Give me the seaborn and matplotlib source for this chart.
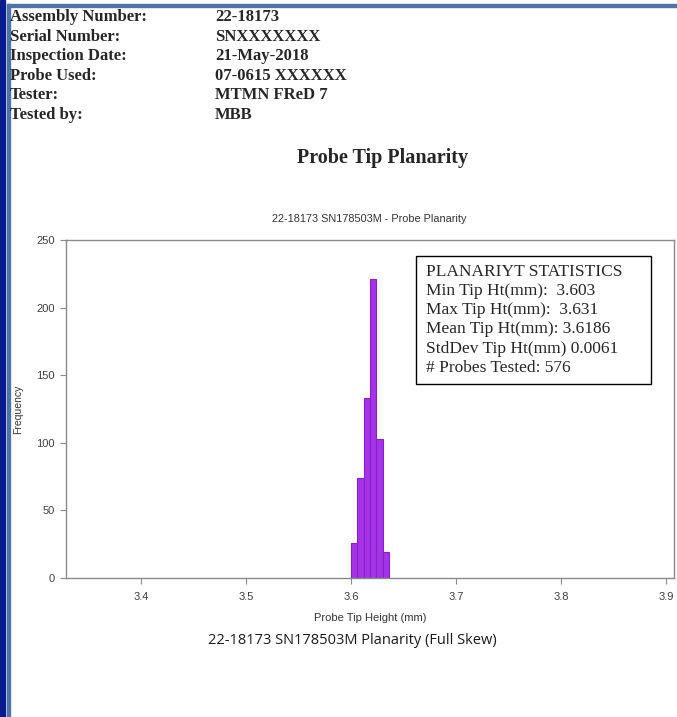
import numpy as np
import matplotlib
matplotlib.use("Agg")
import matplotlib.pyplot as plt
from matplotlib.patches import Rectangle
import seaborn as sns

# histogram (576 probes)
BIN_EDGES = [3.600, 3.606, 3.612, 3.618, 3.624, 3.630, 3.636]
COUNTS = [26, 74, 133, 221, 103, 19]

X_TICKS = [3.4, 3.5, 3.6, 3.7, 3.8, 3.9]
Y_TICKS = [0, 50, 100, 150, 200, 250]

HEADER_LABELS = ["Assembly Number:", "Serial Number:", "Inspection Date:",
                 "Probe Used:", "Tester:", "Tested by:"]
HEADER_VALUES = ["22-18173", "SNXXXXXXX", "21-May-2018",
                 "07-0615 XXXXXX", "MTMN FReD 7", "MBB"]

STATS_LINES = ["PLANARIYT STATISTICS",
               "Min Tip Ht(mm):  3.603",
               "Max Tip Ht(mm):  3.631",
               "Mean Tip Ht(mm): 3.6186",
               "StdDev Tip Ht(mm) 0.0061",
               "# Probes Tested: 576"]

W, H = 677, 717
SANS = ["Liberation Sans", "DejaVu Sans"]
SERIF = ["Liberation Serif", "DejaVu Serif"]
TICK_GREY = "#3f3f3f"
SPINE_GREY = "#8a8a8a"


def fx(px):
    return px / W


def fy(py):
    return 1 - py / H


def draw_page(fig):
    # left navy strip + thin steel-blue frame lines
    fig.patches.append(Rectangle((0, 0), fx(4.5), 1, transform=fig.transFigure,
                                 color="#0b1c8f", zorder=0))
    fig.patches.append(Rectangle((fx(7), 0), fx(3), fy(4), transform=fig.transFigure,
                                 color="#4f72a8", zorder=0))
    fig.patches.append(Rectangle((fx(7), fy(7)), 1, 3 / H,
                                 transform=fig.transFigure, color="#4f72a8", zorder=0))

    for i, (lab, val) in enumerate(zip(HEADER_LABELS, HEADER_VALUES)):
        y = 17 + i * 19.6
        fig.text(fx(10), fy(y), lab, family=SERIF, weight="bold", fontsize=12,
                 va="center", ha="left")
        fig.text(fx(215), fy(y), val, family=SERIF, weight="bold", fontsize=12,
                 va="center", ha="left")

    fig.text(fx(383), fy(158), "Probe Tip Planarity", family=SERIF, weight="bold",
             fontsize=14.5, ha="center", va="center")
    fig.text(fx(369), fy(219), "22-18173 SN178503M - Probe Planarity", family=SANS,
             fontsize=7.8, color="#333333", ha="center", va="center")
    fig.text(fx(352), fy(640), "22-18173 SN178503M Planarity (Full Skew)",
             family=["Open Sans", "DejaVu Sans"], fontsize=10.5, color="#1a1a1a",
             ha="center", va="center")


def draw_stats(fig):
    x0, y0, x1, y1 = 415.7, 255.7, 650.7, 384.3
    fig.patches.append(Rectangle((fx(x0), fy(y1)), fx(x1 - x0), (y1 - y0) / H,
                                 transform=fig.transFigure, fill=False,
                                 edgecolor="black", linewidth=1.0, zorder=5))
    for i, line in enumerate(STATS_LINES):
        fig.text(fx(426.5), fy(271.5 + i * 19.3), line, family=SERIF, fontsize=12.5,
                 ha="left", va="center", zorder=6)


def main():
    sns.set_theme(style="white")
    plt.rcParams["font.family"] = SANS

    fig = plt.figure(figsize=(W / 100, H / 100), dpi=100)
    ax_left, ax_right, ax_top, ax_bottom = 65.7, 674, 240, 578
    ax = fig.add_axes([fx(ax_left), fy(ax_bottom), (ax_right - ax_left) / W,
                       (ax_bottom - ax_top) / H])

    centers = [(a + b) / 2 for a, b in zip(BIN_EDGES[:-1], BIN_EDGES[1:])]
    sns.histplot(x=centers, weights=COUNTS, bins=BIN_EDGES, ax=ax,
                 color="#a534e6", edgecolor="#8a1fd0", linewidth=0.8, alpha=1.0)

    ax.set_xlim(3.3283, 3.9076)
    ax.set_ylim(0, 250)
    ax.set_xticks(X_TICKS)
    ax.set_yticks(Y_TICKS)
    ax.set_xticklabels([f"{t:.1f}" for t in X_TICKS])
    ax.set_yticklabels([str(t) for t in Y_TICKS])
    ax.tick_params(axis="both", which="major", direction="out", length=4,
                   width=0.8, color=SPINE_GREY, labelsize=8, labelcolor=TICK_GREY,
                   bottom=True, left=True, top=False, right=False)
    ax.tick_params(axis="y", pad=4)
    ax.tick_params(axis="x", pad=6)
    ax.set_xlabel("Probe Tip Height (mm)", fontsize=8, color="#333333", labelpad=8)
    ax.set_ylabel("Frequency", fontsize=7.5, color="#333333")
    ax.yaxis.set_label_coords((23 - ax_left) / (ax_right - ax_left), 0.5)
    for side in ["left", "right", "top", "bottom"]:
        ax.spines[side].set_visible(True)
        ax.spines[side].set_color(SPINE_GREY)
        ax.spines[side].set_linewidth(1.0)
    ax.grid(False)

    draw_page(fig)
    draw_stats(fig)

    fig.savefig("out.png", dpi=100, facecolor="white")
    plt.close(fig)


if __name__ == "__main__":
    main()
